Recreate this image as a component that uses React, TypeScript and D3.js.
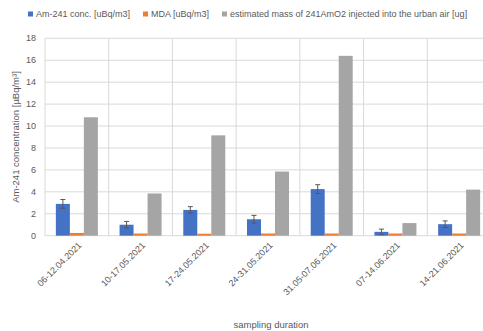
import React, { useRef, useEffect } from 'react';
import * as d3 from 'd3';

const periods = ['06-12.04.2021', '10-17.05.2021', '17-24.05.2021', '24-31.05.2021', '31.05-07.06.2021', '07-14.06.2021', '14-21.06.2021'];
const amConc = [2.9, 1.0, 2.35, 1.5, 4.25, 0.35, 1.05];
const amErr = [0.4, 0.3, 0.3, 0.35, 0.4, 0.25, 0.3];
const mda = [0.25, 0.2, 0.18, 0.2, 0.2, 0.2, 0.2];
const mass = [10.8, 3.85, 9.15, 5.85, 16.4, 1.15, 4.2];
const seriesNames = ['Am-241 conc. [uBq/m3]', 'MDA [uBq/m3]', 'estimated mass of 241AmO2 injected into the urban air [ug]'];
const seriesColors = ['#4472C4', '#ED7D31', '#A5A5A5'];
const yTicks = [0, 2, 4, 6, 8, 10, 12, 14, 16, 18];

const FONT = '"Liberation Sans", Arial, sans-serif';

const App = () => {
  const ref = useRef<SVGSVGElement>(null);
  useEffect(() => {
    const width = 483;
    const height = 331;
    const svg = d3.select(ref.current);
    svg.selectAll('*').remove();
    svg.attr('viewBox', `0 0 ${width} ${height}`);

    const left = 45, right = 491, top = 38.3, bottom = 235.7;
    const x = d3.scaleBand().domain(periods).range([left, right]).padding(0);
    const inner = d3.scaleBand().domain(['0', '1', '2']).range([0, x.bandwidth()]).paddingInner(0).paddingOuter(0.775);
    const y = d3.scaleLinear().domain([0, 18]).range([bottom, top]);

    // gridlines
    svg.append('g').selectAll('line').data(yTicks).join('line')
      .attr('x1', left).attr('x2', right)
      .attr('y1', d => y(d)).attr('y2', d => y(d))
      .attr('stroke', '#d9d9d9').attr('stroke-width', 1);
    svg.append('g').selectAll('line').data(periods.concat(['end'])).join('line')
      .attr('x1', (d, i) => left + i * x.step()).attr('x2', (d, i) => left + i * x.step())
      .attr('y1', top).attr('y2', bottom)
      .attr('stroke', '#d9d9d9').attr('stroke-width', 1);

    // y tick labels
    svg.append('g').selectAll('text').data(yTicks).join('text')
      .attr('x', 36).attr('y', d => y(d)).attr('dy', '0.35em')
      .attr('text-anchor', 'end').style('font-family', FONT).style('font-size', '9px').style('fill', '#595959')
      .text(d => d);

    // bars
    const series = [amConc, mda, mass];
    series.forEach((vals, s) => {
      svg.append('g').selectAll('rect').data(vals).join('rect')
        .attr('x', (d, i) => (x(periods[i]) as number) + (inner(String(s)) as number))
        .attr('width', inner.bandwidth())
        .attr('y', d => y(d))
        .attr('height', d => y(0) - y(d))
        .attr('fill', seriesColors[s]);
    });

    // error bars
    const eg = svg.append('g').attr('stroke', '#595959').attr('stroke-width', 1);
    amConc.forEach((v, i) => {
      const cx = (x(periods[i]) as number) + (inner('0') as number) + inner.bandwidth() / 2;
      const y1 = y(v + amErr[i]);
      const y2 = y(Math.max(0, v - amErr[i]));
      eg.append('line').attr('x1', cx).attr('x2', cx).attr('y1', y1).attr('y2', y2);
      eg.append('line').attr('x1', cx - 2.5).attr('x2', cx + 2.5).attr('y1', y1).attr('y2', y1);
      eg.append('line').attr('x1', cx - 2.5).attr('x2', cx + 2.5).attr('y1', y2).attr('y2', y2);
    });

    // x tick labels
    svg.append('g').selectAll('text').data(periods).join('text')
      .attr('transform', d => `translate(${(x(d) as number) + x.bandwidth() / 2 + 3},${bottom + 8}) rotate(-45)`)
      .attr('text-anchor', 'end').attr('dy', '0.35em')
      .style('font-family', FONT).style('font-size', '9px').style('fill', '#595959')
      .text(d => d);

    // axis titles
    svg.append('text')
      .attr('transform', `translate(19,${(top + bottom) / 2}) rotate(-90)`)
      .attr('text-anchor', 'middle')
      .style('font-family', FONT).style('font-size', '9.5px').style('fill', '#595959')
      .text('Am-241 concentration [µBq/m³]');
    svg.append('text')
      .attr('x', 271).attr('y', 328)
      .attr('text-anchor', 'middle')
      .style('font-family', FONT).style('font-size', '9.5px').style('fill', '#595959')
      .text('sampling duration');

    // legend
    const legendX = [28, 143, 222];
    const lg = svg.append('g');
    seriesNames.forEach((name, i) => {
      lg.append('rect').attr('x', legendX[i]).attr('y', 11.5).attr('width', 5).attr('height', 5).attr('fill', seriesColors[i]);
      lg.append('text').attr('x', legendX[i] + 8).attr('y', 14).attr('dy', '0.35em')
        .style('font-family', FONT).style('font-size', '9px').style('fill', '#595959')
        .text(name);
    });
  }, []);

  return <svg ref={ref} width={483} height={331} style={{ position: 'absolute', left: 0, top: 0, background: '#fff' }} />;
};

export default App;
